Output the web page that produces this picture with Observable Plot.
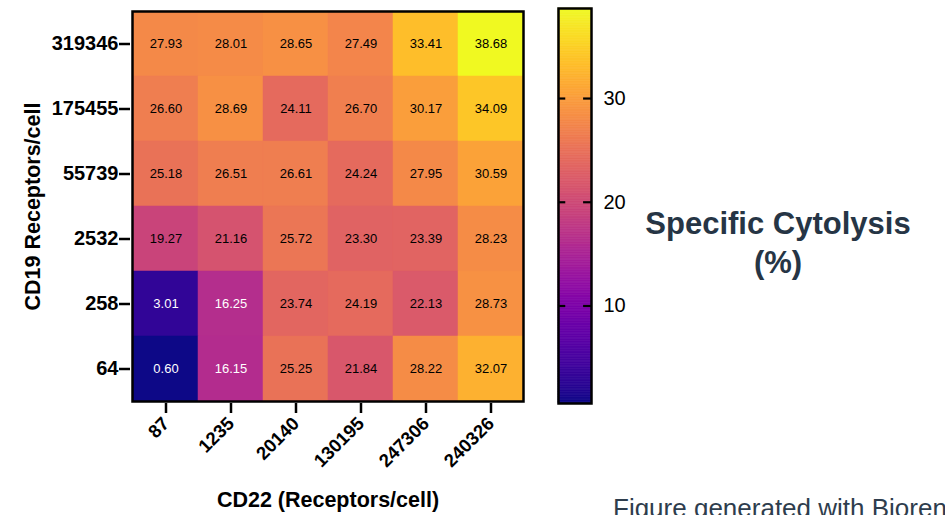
<!DOCTYPE html>
<html>
<head>
<meta charset="utf-8">
<script src="https://cdn.jsdelivr.net/npm/d3@7"></script>
<script src="https://cdn.jsdelivr.net/npm/@observablehq/plot@0.6"></script>
<style>
  html, body { margin: 0; padding: 0; background: white; overflow: hidden; }
  #wrap { position: relative; width: 945px; height: 515px; overflow: hidden; font-family: "Liberation Sans", Arial, sans-serif; }
  #wrap > svg, #wrap > figure { position: absolute; left: 0; top: 0; margin: 0; }
  #legendTitle { position: absolute; left: 578px; top: 205px; width: 400px; text-align: center; font-weight: bold; font-size: 31px; line-height: 38.5px; color: #263545; }
  #caption { position: absolute; left: 613px; top: 494.6px; white-space: nowrap; font-size: 26px; line-height: 1; color: #2e3d4d; }
</style>
</head>
<body>
<div id="wrap">
  <div id="legendTitle">Specific Cytolysis<br>(%)</div>
  <div id="caption">Figure generated with Biorender</div>
</div>
<script>
const cd22 = ["87", "1235", "20140", "130195", "247306", "240326"];
const cd19 = ["319346", "175455", "55739", "2532", "258", "64"];
const row319346 = [27.93, 28.01, 28.65, 27.49, 33.41, 38.68];
const row175455 = [26.60, 28.69, 24.11, 26.70, 30.17, 34.09];
const row55739  = [25.18, 26.51, 26.61, 24.24, 27.95, 30.59];
const row2532   = [19.27, 21.16, 25.72, 23.30, 23.39, 28.23];
const row258    = [3.01, 16.25, 23.74, 24.19, 22.13, 28.73];
const row64     = [0.60, 16.15, 25.25, 21.84, 28.22, 32.07];
const colorbarTicks = [10, 20, 30];
const xTitle = "CD22 (Receptors/cell)";
const yTitle = "CD19 Receptors/cell";

const rows = [row319346, row175455, row55739, row2532, row258, row64];
const cells = cd19.flatMap((r, i) => cd22.map((c, j) => ({cd19: r, cd22: c, v: rows[i][j]})));
const all = cells.map(d => d.v);
const vmin = d3.min(all), vmax = d3.max(all);
const font = '"Liberation Sans", Arial, sans-serif';
const colorOpt = {type: "linear", scheme: "plasma", domain: [vmin, vmax]};

const main = Plot.plot({
  width: 945, height: 515,
  marginLeft: 130, marginRight: 420, marginTop: 9, marginBottom: 112,
  x: {domain: cd22, padding: 0, label: null},
  y: {domain: cd19, padding: 0, label: null},
  color: colorOpt,
  style: {fontFamily: font, fontSize: "13px", color: "black", background: "transparent", overflow: "visible"},
  marks: [
    Plot.cell(cells, {x: "cd22", y: "cd19", fill: "v", stroke: "v", strokeWidth: 0.5}),
    Plot.text(cells.filter(d => d.v >= 17), {x: "cd22", y: "cd19", text: d => d.v.toFixed(2), fill: "black", fontSize: 13}),
    Plot.text(cells.filter(d => d.v < 17), {x: "cd22", y: "cd19", text: d => d.v.toFixed(2), fill: "white", fontSize: 13}),
    Plot.frame({stroke: "black", strokeWidth: 2.5, inset: 2}),
    Plot.axisY({tickSize: 11, tickPadding: 1, fontSize: 20, fontWeight: "bold", strokeWidth: 2.5, label: null}),
    Plot.axisX({tickSize: 10, tickPadding: 7, tickRotate: -45, fontSize: 18.5, fontWeight: "bold", strokeWidth: 2.5, label: null}),
    Plot.text([yTitle], {frameAnchor: "left", dx: -97, rotate: -90, textAnchor: "middle", lineAnchor: "middle", fontSize: 21.5, fontWeight: "bold"}),
    Plot.text([xTitle], {frameAnchor: "bottom", dy: 97, textAnchor: "middle", lineAnchor: "middle", fontSize: 21.5, fontWeight: "bold"})
  ]
});

const nSteps = 240;
const ramp = d3.range(nSteps).map(i => {
  const a = vmin + (vmax - vmin) * i / nSteps;
  const b = vmin + (vmax - vmin) * (i + 1) / nSteps;
  return {a, b, m: (a + b) / 2};
});

const bar = Plot.plot({
  width: 945, height: 515,
  marginLeft: 558, marginRight: 354, marginTop: 8, marginBottom: 112,
  x: {domain: [0, 1], axis: null},
  y: {domain: [vmin, vmax], axis: null},
  color: colorOpt,
  style: {fontFamily: font, fontSize: "20px", color: "black", background: "transparent", overflow: "visible"},
  marks: [
    Plot.rect(ramp, {x1: 0, x2: 1, y1: "a", y2: "b", fill: "m", stroke: "m", strokeWidth: 0.6}),
    Plot.frame({stroke: "black", strokeWidth: 2.5}),
    Plot.ruleY(colorbarTicks, {x1: 0, x2: 0.22, strokeWidth: 2.2, stroke: "black"}),
    Plot.ruleY(colorbarTicks, {x1: 0.76, x2: 1.03, strokeWidth: 2.2, stroke: "black"}),
    Plot.text(colorbarTicks, {x: 1, y: d => d, dx: 12, textAnchor: "start", fontSize: 20, fill: "black"})
  ]
});

const wrap = document.getElementById("wrap");
wrap.insertBefore(bar, wrap.firstChild);
wrap.insertBefore(main, wrap.firstChild);
</script>
</body>
</html>
